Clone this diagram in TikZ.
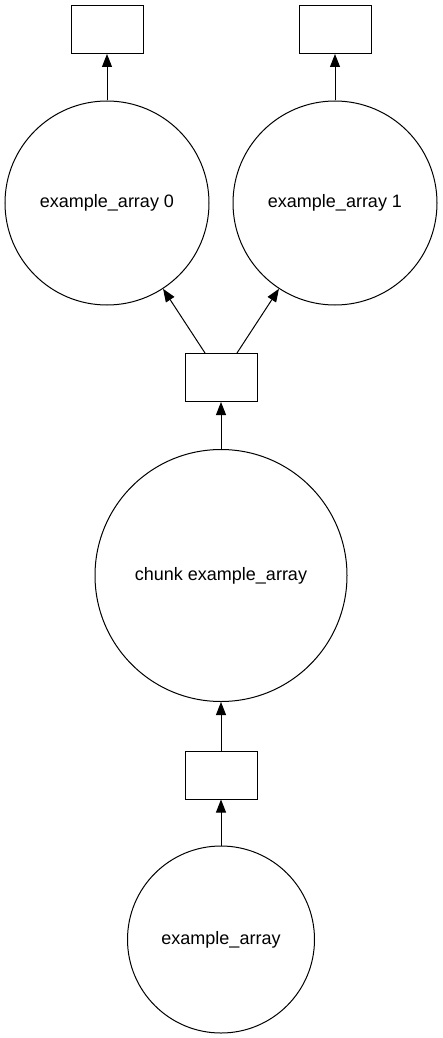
\documentclass[tikz,border=0pt]{standalone}
\usepackage{fontspec}
\setmainfont{Liberation Sans}
\usetikzlibrary{arrows.meta,positioning}

\begin{document}
\begin{tikzpicture}[
  x=1pt, y=-1pt,
  font=\fontsize{18}{22}\selectfont,
  box/.style={draw, line width=1pt, minimum width=72pt, minimum height=48pt, inner sep=0pt},
  circ/.style={draw, circle, line width=1pt, inner sep=0pt},
  edge/.style={line width=1pt, -{Triangle[length=13pt,width=10pt]}},
]
\useasboundingbox (0,0) rectangle (443,1038);

% ---- Row 0: output boxes ----
\node[box] (b0) at (107,29.5) {};
\node[box] (b1) at (335,29.5) {};

% ---- Row 1: split chunks ----
\node[circ, minimum size=204pt] (c0) at (107,203) {example\_array 0};
\node[circ, minimum size=204pt] (c1) at (335,203) {example\_array 1};

\draw[edge] (c0.north) -- (b0.south);
\draw[edge] (c1.north) -- (b1.south);

% ---- Row 2: middle box ----
\node[box] (bm) at (221,377.5) {};

\draw[edge] ([xshift=-16pt]bm.north) -- (c0);
\draw[edge] ([xshift=16pt]bm.north) -- (c1);

% ---- Row 3: chunk ----
\node[circ, minimum size=252pt] (ch) at (221,575.5) {chunk example\_array};

\draw[edge] (ch.north) -- (bm.south);

% ---- Row 4: lower box ----
\node[box] (bl) at (221,775) {};

\draw[edge] (bl.north) -- (ch.south);

% ---- Row 5: source array ----
\node[circ, minimum size=187pt] (ea) at (221,939.5) {example\_array};

\draw[edge] (ea.north) -- (bl.south);

\end{tikzpicture}
\end{document}
